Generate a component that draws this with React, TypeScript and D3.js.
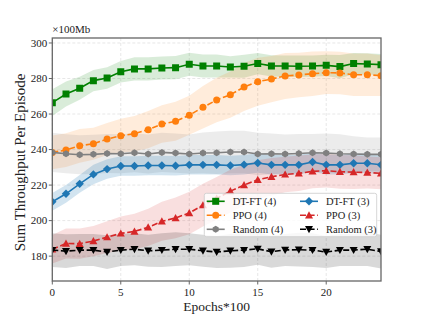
import * as d3 from 'd3';

const epochs = d3.range(0, 25);

const dtft4 = [266.4, 271.3, 274.5, 278.8, 280.3, 283.8, 285.4, 285.4, 285.9, 286.1, 288.0, 287.0, 287.0, 286.5, 286.9, 288.4, 287.1, 287.0, 286.9, 287.0, 287.4, 286.7, 288.4, 288.2, 287.8];
const dtft4Std = [7.5, 7, 6.5, 6, 6, 6, 6.5, 6.5, 6.5, 6.5, 6.5, 6.5, 6.5, 6, 6.5, 6, 6, 6, 6, 6, 6, 6.5, 6, 6, 6];

const ppo4 = [238.4, 239.7, 242.1, 243.3, 245.9, 247.8, 248.9, 251.2, 254.4, 255.9, 259.3, 263.8, 267.9, 270.9, 275.2, 278.2, 279.7, 281.4, 282.0, 282.7, 283.3, 283.1, 282.1, 282.1, 281.6];
const ppo4Std = [9.5, 9.5, 9.5, 9, 9, 9.5, 10, 10.5, 10.5, 11, 11, 12, 12.5, 13, 13.5, 13.5, 13, 13, 12.5, 12.5, 12, 12, 12, 12, 11.5];

const random4 = [238.4, 237.6, 237.1, 237.3, 237.8, 237.6, 238.2, 237.5, 238.4, 238.0, 237.5, 238.1, 238.2, 238.6, 238.6, 237.5, 237.6, 237.5, 237.8, 238.2, 238.0, 237.6, 237.5, 237.3, 237.3];
const random4Std = [11, 11, 11, 11, 11, 11, 11, 11, 11, 11, 11, 11.5, 12, 12, 12, 12, 11.5, 11, 11, 10.5, 11, 11, 10, 9.5, 9.5];

const dtft3 = [210.6, 215.1, 220.7, 226.0, 229.0, 230.7, 230.7, 231.0, 231.0, 230.9, 231.4, 231.4, 231.4, 231.0, 231.5, 232.4, 231.4, 231.4, 231.4, 233.0, 231.4, 231.4, 232.3, 232.3, 231.4];
const dtft3Std = [5, 5, 5, 5.5, 5.5, 5.5, 5.5, 5.5, 5.5, 5.5, 5.5, 5.5, 5.5, 5.5, 5.5, 5.5, 5.5, 5.5, 5.5, 5.5, 5.5, 5.5, 5.5, 5.5, 5.5];

const ppo3 = [183.9, 187.1, 187.0, 188.5, 190.7, 192.8, 193.9, 196.2, 199.6, 201.5, 204.3, 208.7, 212.5, 216.6, 220.0, 223.0, 224.7, 226.0, 226.6, 227.7, 228.1, 227.5, 227.3, 227.1, 226.6];
const ppo3Std = [8, 8.5, 8.5, 8.5, 9, 9.5, 10, 10.5, 11, 11.5, 12, 12, 12, 12, 11.5, 11, 10.5, 10, 10, 9.5, 9.5, 9.5, 9.5, 9, 9];

const random3 = [183.4, 182.8, 183.4, 183.4, 182.3, 183.4, 183.9, 183.0, 183.4, 183.9, 183.9, 183.0, 182.3, 183.0, 183.4, 184.1, 182.5, 183.5, 183.6, 183.4, 182.3, 183.4, 183.4, 183.9, 182.6];
const random3Std = [9.5, 9.5, 9, 9, 9.5, 9, 9, 9, 9.5, 9.5, 9, 9, 9, 9.5, 9.5, 9, 9, 9, 9.5, 9.5, 9, 9, 9, 9.5, 9.5];

const xTicks = [0, 5, 10, 15, 20];
const yTicks = [180, 200, 220, 240, 260, 280, 300];

type Marker = 'square' | 'circle' | 'hexagon' | 'diamond' | 'triangle' | 'triangleDown';

interface Series {
  label: string;
  values: number[];
  std: number[];
  color: string;
  bandAlpha: number;
  dashed: boolean;
  marker: Marker;
  size: number;
}

const series: Series[] = [
  { label: 'DT-FT (4)', values: dtft4, std: dtft4Std, color: '#008000', bandAlpha: 0.15, dashed: false, marker: 'square', size: 7 },
  { label: 'PPO (4)', values: ppo4, std: ppo4Std, color: '#ff7f0e', bandAlpha: 0.15, dashed: true, marker: 'circle', size: 7 },
  { label: 'Random (4)', values: random4, std: random4Std, color: '#808080', bandAlpha: 0.15, dashed: false, marker: 'hexagon', size: 7 },
  { label: 'DT-FT (3)', values: dtft3, std: dtft3Std, color: '#1f77b4', bandAlpha: 0.2, dashed: false, marker: 'diamond', size: 7 },
  { label: 'PPO (3)', values: ppo3, std: ppo3Std, color: '#d62728', bandAlpha: 0.15, dashed: true, marker: 'triangle', size: 8 },
  { label: 'Random (3)', values: random3, std: random3Std, color: '#000000', bandAlpha: 0.15, dashed: true, marker: 'triangleDown', size: 8 },
];

const W = 423, H = 316;
const left = 52.3, right = 381, top = 38, bottom = 281;
const font = '"Liberation Serif", "DejaVu Serif", serif';

const x = d3.scaleLinear().domain([0, 24]).range([left, right]);
const y = d3.scaleLinear().domain([166, 302.8]).range([bottom, top]);

function markerPath(m: Marker, s: number): string {
  const r = s / 2;
  switch (m) {
    case 'square':
      return `M${-r},${-r}H${r}V${r}H${-r}Z`;
    case 'circle':
      return d3.symbol(d3.symbolCircle, Math.PI * r * r)()!;
    case 'hexagon': {
      const pts = d3.range(6).map(i => {
        const a = Math.PI / 2 + (i * Math.PI) / 3;
        return [r * Math.cos(a), -r * Math.sin(a)];
      });
      return 'M' + pts.map(p => p.join(',')).join('L') + 'Z';
    }
    case 'diamond': {
      const d = r * 1.2;
      return `M0,${-d}L${d},0L0,${d}L${-d},0Z`;
    }
    case 'triangle':
      return `M0,${-r}L${r},${r * 0.8}L${-r},${r * 0.8}Z`;
    case 'triangleDown':
      return `M0,${r}L${r},${-r * 0.8}L${-r},${-r * 0.8}Z`;
  }
}

function Chart() {
  const line = d3.line<number>().x((_, i) => x(epochs[i])).y(d => y(d));
  const area = (s: Series) =>
    d3.area<number>()
      .x((_, i) => x(epochs[i]))
      .y0((d, i) => y(d - s.std[i]))
      .y1((d, i) => y(d + s.std[i]))(s.values)!;

  const legendX = 204.3, legendY = 193.3, legendW = 172.4, legendH = 43.4;
  const rowH = 14;
  const cols = [206.7, 300];

  return (
    <svg width={W} height={H} style={{ position: 'absolute', left: 0, top: 0 }} fontFamily={font}>
      <rect width={W} height={H} fill="#fff" />
      <defs>
        <clipPath id="plot">
          <rect x={left} y={top} width={right - left} height={bottom - top} />
        </clipPath>
      </defs>
      {/* grid */}
      <g stroke="#dcdcdc" strokeWidth={0.7} strokeDasharray="3,2">
        {xTicks.map(t => <line key={'gx' + t} x1={x(t)} x2={x(t)} y1={top} y2={bottom} />)}
        {yTicks.map(t => <line key={'gy' + t} x1={left} x2={right} y1={y(t)} y2={y(t)} />)}
      </g>
      <g clipPath="url(#plot)">
        {series.map(s => (
          <path key={'a' + s.label} d={area(s)} fill={s.color} fillOpacity={s.bandAlpha} stroke="none" />
        ))}
        {series.map(s => (
          <g key={'l' + s.label}>
            <path d={line(s.values)!} fill="none" stroke={s.color} strokeWidth={1.6}
              strokeDasharray={s.dashed ? '6,2.6' : undefined} />
            {s.values.map((v, i) => (
              <path key={i} d={markerPath(s.marker, s.size)} transform={`translate(${x(epochs[i])},${y(v)})`} fill={s.color} />
            ))}
          </g>
        ))}
      </g>
      {/* frame */}
      <rect x={left} y={top} width={right - left} height={bottom - top} fill="none" stroke="#666" strokeWidth={1.3} />
      {/* ticks */}
      <g stroke="#666" strokeWidth={1}>
        {xTicks.map(t => <line key={'tx' + t} x1={x(t)} x2={x(t)} y1={bottom} y2={bottom + 3.5} />)}
        {yTicks.map(t => <line key={'ty' + t} x1={left - 3.5} x2={left} y1={y(t)} y2={y(t)} />)}
      </g>
      <g fontSize={11} fill="#222">
        {xTicks.map(t => (
          <text key={'lx' + t} x={x(t)} y={bottom + 14.5} textAnchor="middle">{t}</text>
        ))}
        {yTicks.map(t => (
          <text key={'ly' + t} x={left - 5} y={y(t) + 3.8} textAnchor="end">{t}</text>
        ))}
      </g>
      <text x={left} y={32.5} fontSize={11} fill="#222">×100Mb</text>
      <text x={216.6} y={310.5} fontSize={13.5} textAnchor="middle" fill="#222">Epochs*100</text>
      <text transform={`translate(24.5,${(top + bottom) / 2 + 3}) rotate(-90)`} fontSize={15} textAnchor="middle" fill="#222">
        Sum Throughput Per Episode
      </text>
      {/* legend */}
      <rect x={legendX} y={legendY} width={legendW} height={legendH} rx={2} fill="#fff" fillOpacity={0.8} stroke="#ccc" strokeWidth={0.8} />
      {series.map((s, i) => {
        const col = Math.floor(i / 3);
        const row = i % 3;
        const hx = cols[col];
        const hy = legendY + 8 + row * rowH;
        return (
          <g key={'lg' + s.label}>
            <line x1={hx} x2={hx + 18} y1={hy} y2={hy} stroke={s.color} strokeWidth={1.6}
              strokeDasharray={s.dashed ? '6,2.6' : undefined} />
            <path d={markerPath(s.marker, s.size)} transform={`translate(${hx + 9},${hy})`} fill={s.color} />
            <text x={hx + 26} y={hy + 3.5} fontSize={10.5} fill="#222">{s.label}</text>
          </g>
        );
      })}
    </svg>
  );
}

export default function App() {
  return <Chart />;
}
